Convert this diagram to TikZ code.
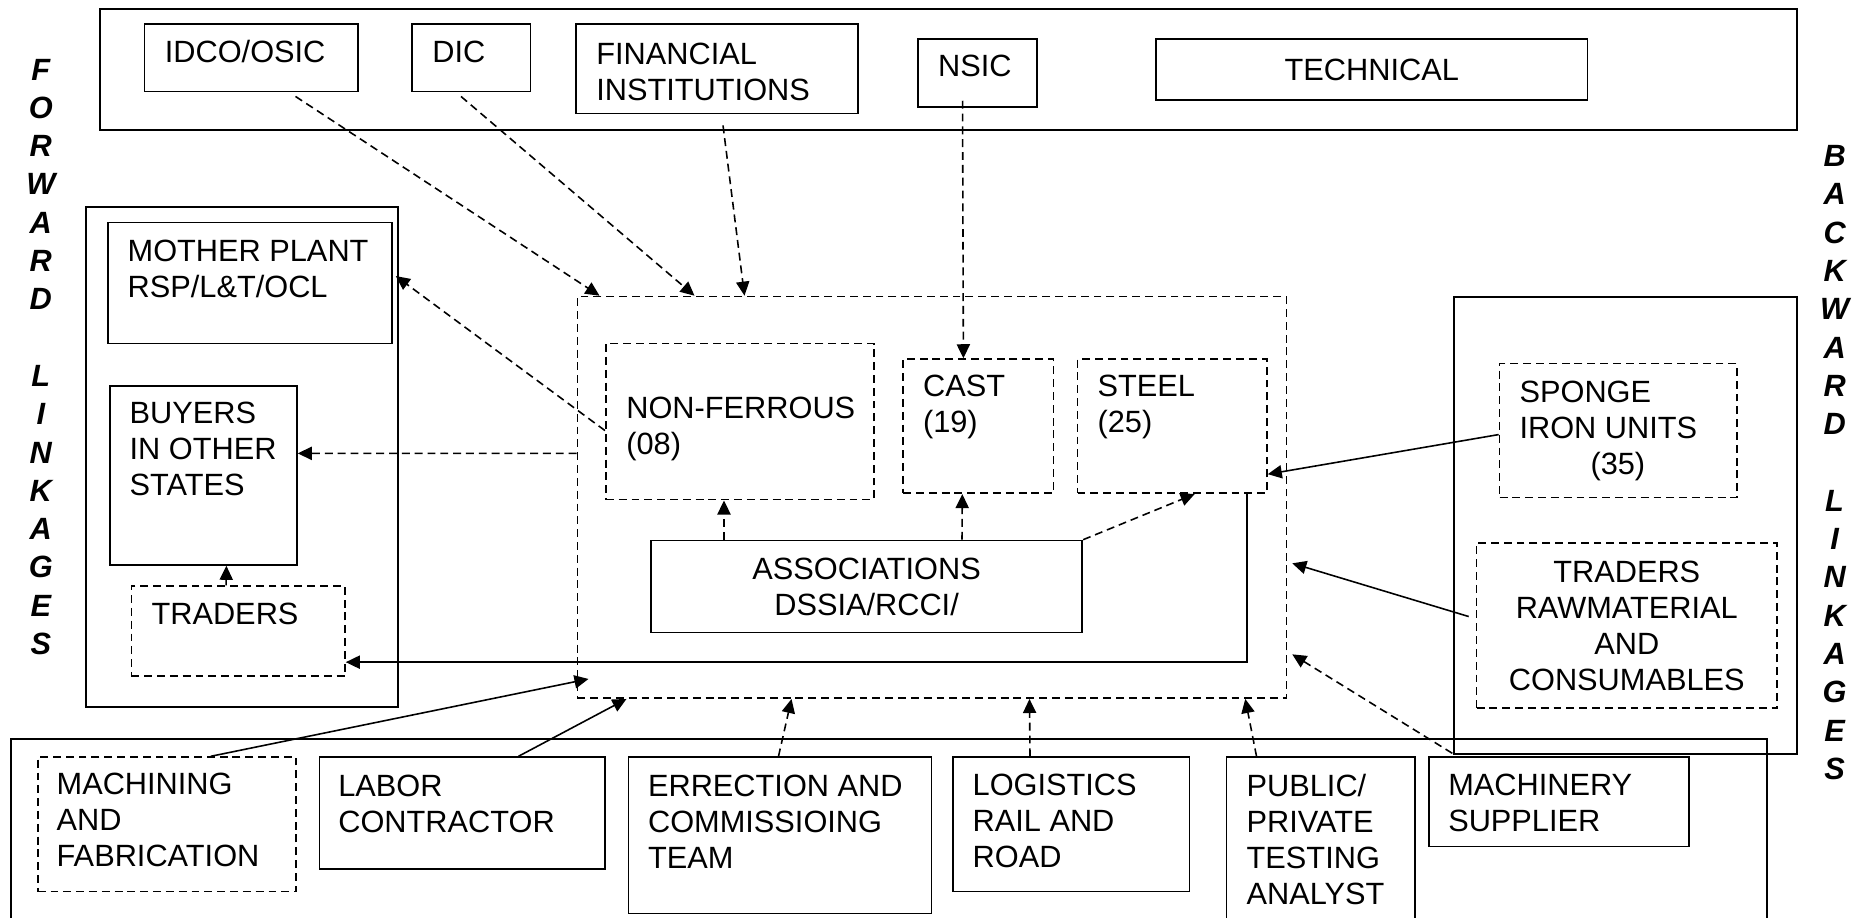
\documentclass[tikz,border=0pt]{standalone}
\usepackage{fontspec}
\setmainfont{Liberation Sans}
\usetikzlibrary{calc,arrows.meta}

\newcommand\sidefont{\fontsize{17.5pt}{21.8pt}\selectfont\bfseries\itshape}

\tikzset{
  wh/.style 2 args={minimum width=#1*0.02cm, minimum height=#2*0.02cm},
  box/.style={draw, line width=1pt, anchor=north west, inner sep=0pt},
  dbox/.style={box, dash pattern=on 4.5pt off 2.8pt},
  outer/.style={box, line width=1.2pt},
  txt/.style={anchor=north west, inner sep=0pt, align=left},
  ctxt/.style={anchor=north, inner sep=0pt, align=center},
  link/.style={-{Triangle[length=8pt,width=7.5pt]}, line width=0.9pt},
  dlink/.style={link, dash pattern=on 4.5pt off 2.8pt},
  side/.style={anchor=north, inner sep=0pt, align=center, font=\sidefont}
}

\begin{document}
\begin{tikzpicture}[x=0.02cm, y=-0.02cm, font=\fontsize{17.5pt}{20.5pt}\selectfont]
\useasboundingbox (0,0) rectangle (1856,918);

% support agencies on top
\node[outer, wh={1696.5}{121}] (top) at (99,8.3) {};
\node[box, wh={213.5}{67.4}] (idco) at (143.5,23.3) {};
\node[box, wh={118.6}{67.4}] (dic) at (411,23.3) {};
\node[box, wh={282}{89.4}] (fin) at (575,23.3) {};
\node[box, wh={118.7}{67.7}] (nsic) at (917.3,38.3) {};
\node[box, wh={431.7}{61}] (tech) at (1155,38.3) {TECHNICAL};

\node[txt] (idcot) at ($(idco.north west)+(21,17)$) {IDCO/OSIC};
\node[txt] (dict) at ($(dic.north west)+(21,17)$) {DIC};
\node[txt] (fint) at ($(fin.north west)+(21,19)$) {FINANCIAL\\INSTITUTIONS};
\node[txt] (nsict) at ($(nsic.north west)+(20.5,16.5)$) {NSIC};

% forward side
\node[outer, wh={312}{500.6}] (fwd) at (84.8,205.7) {};
\node[box, wh={283.7}{121}] (mother) at (107.3,221.7) {};
\node[box, wh={187}{179}] (buyers) at (109,385) {};
\node[dbox, wh={213.5}{90}] (tradl) at (130.5,585.3) {};

\node[txt] (mothert) at ($(mother.north west)+(20,17.5)$) {MOTHER PLANT\\RSP/L\&T/OCL};
\node[txt] (buyerst) at ($(buyers.north west)+(20.3,16.7)$) {BUYERS\\IN OTHER\\STATES};
\node[txt] (tradlt) at ($(tradl.north west)+(20.7,17.7)$) {TRADERS};

% the cluster
\node[dbox, wh={709}{401.5}] (cluster) at (576.5,295.7) {};
\node[dbox, wh={268}{156}] (nonfer) at (605,342.7) {};
\node[dbox, wh={150.4}{134}] (cast) at (902.3,358.3) {};
\node[dbox, wh={189.3}{134}] (steel) at (1076.7,358.3) {};
\node[box, wh={431.4}{91.8}] (assoc) at (650,539.7) {};

\node[txt] (nonfert) at ($(nonfer.north west)+(21,54)$) {NON-FERROUS\\(08)};
\node[txt] (castt) at ($(cast.north west)+(20.4,16.7)$) {CAST\\(19)};
\node[txt] (steelt) at ($(steel.north west)+(20.6,16.7)$) {STEEL\\(25)};
\node[ctxt] (assoct) at ($(assoc.north)+(0,18.3)$) {ASSOCIATIONS\\DSSIA/RCCI/};

% backward side
\node[outer, wh={342.6}{457.3}] (bwd) at (1453,295.7) {};
\node[dbox, wh={237.3}{134}] (sponge) at (1498.7,362.7) {};
\node[dbox, wh={300.4}{165.3}] (tradr) at (1475.7,542) {};

\node[txt] (spongt) at ($(sponge.north west)+(20.5,18.3)$) {SPONGE\\IRON UNITS\\\hspace*{1.42cm}(35)};
\node[ctxt] (tradrt) at ($(tradr.north)+(0,19)$) {TRADERS\\RAWMATERIAL\\AND\\CONSUMABLES};

% service providers at the bottom
\node[outer, wh={1755.5}{250}] (bot) at (10,737.5) {};
\node[dbox, wh={258.6}{134.4}] (mach) at (36.8,756.3) {};
\node[box, wh={285.3}{111.5}] (labor) at (318.5,756.3) {};
\node[box, wh={303}{156.3}] (erect) at (627.5,756.3) {};
\node[box, wh={236.7}{134.4}] (logis) at (952,756.3) {};
\node[box, wh={188.5}{250}] (public) at (1225.5,756.3) {};
\node[box, wh={259.7}{89.4}] (machsup) at (1428.3,756.3) {};

\node[txt] (macht) at ($(mach.north west)+(19.5,16.7)$) {MACHINING\\AND\\FABRICATION};
\node[txt] (labort) at ($(labor.north west)+(19.5,18.4)$) {LABOR\\CONTRACTOR};
\node[txt] (erectt) at ($(erect.north west)+(20.2,18.4)$) {ERRECTION AND\\COMMISSIOING\\TEAM};
\node[txt] (logist) at ($(logis.north west)+(20.3,17.7)$) {LOGISTICS\\RAIL AND\\ROAD};
\node[txt] (publict) at ($(public.north west)+(20.8,17.7)$) {PUBLIC/\\PRIVATE\\TESTING\\ANALYST};
\node[txt] (machsupt) at ($(machsup.north west)+(19.6,17.7)$) {MACHINERY\\SUPPLIER};

% side titles
\node[side] (fwdlab) at (40.8,58.5) {F\\O\\R\\W\\A\\R\\D\\~\\L\\I\\N\\K\\A\\G\\E\\S};
\node[side] (bwdlab) at (1834.6,145) {B\\A\\C\\K\\W\\A\\R\\D\\~\\L\\I\\N\\K\\A\\G\\E\\S};

% links from the agencies
\draw[dlink] ($(idco.south west)+(152,4)$) -- ($(cluster.north west)+(23,0)$);
\draw[dlink] ($(dic.south west)+(50,4)$) -- ($(cluster.north west)+(118,0)$);
\draw[dlink] ($(fin.south west)+(148,11)$) -- ($(cluster.north west)+(168,0)$);
\draw[dlink] ($(nsic.south)+(-15,-7)$) -- ($(cast.north)+(-15,0)$);

% forward links
\draw[dlink] ($(nonfer.west)+(0,9)$) -- ($(mother.east)+(3,-7)$);
\draw[dlink] ($(cluster.west)+(0,-44)$) -- ($(buyers.east)+(0,-22)$);
\draw[dlink] ($(tradl.north)+(-12,0)$) -- ($(buyers.south)+(23,0)$);
\draw[link] ($(steel.south east)+(-21,0)$) |- ($(tradl.east)+(0,31)$);

% inside the cluster
\draw[dlink] ($(assoc.north west)+(74,0)$) -- ($(nonfer.south west)+(119,0)$);
\draw[dlink] ($(assoc.north west)+(312,0)$) -- ($(cast.south west)+(60,0)$);
\draw[dlink] (assoc.north east) -- ($(steel.south west)+(118,0)$);

% backward links
\draw[link] ($(sponge.west)+(0,4)$) -- ($(steel.east)+(0,48)$);
\draw[link] ($(tradr.west)+(-7,-9)$) -- ($(cluster.east)+(5,66)$);
\draw[dlink] ($(machsup.north west)+(24,-3)$) -- ($(cluster.east)+(5,157)$);
\draw[dlink] ($(public.north west)+(31,0)$) -- ($(cluster.south east)+(-42,0)$);
\draw[dlink] ($(logis.north west)+(78,0)$) -- ($(cluster.south west)+(453,0)$);
\draw[dlink] ($(erect.north west)+(151,0)$) -- ($(cluster.south west)+(215,0)$);
\draw[link] ($(labor.north west)+(200,0)$) -- ($(cluster.south west)+(50,0)$);
\draw[link] ($(mach.north west)+(174,0)$) -- ($(cluster.south west)+(12,-20)$);

\end{tikzpicture}
\end{document}
